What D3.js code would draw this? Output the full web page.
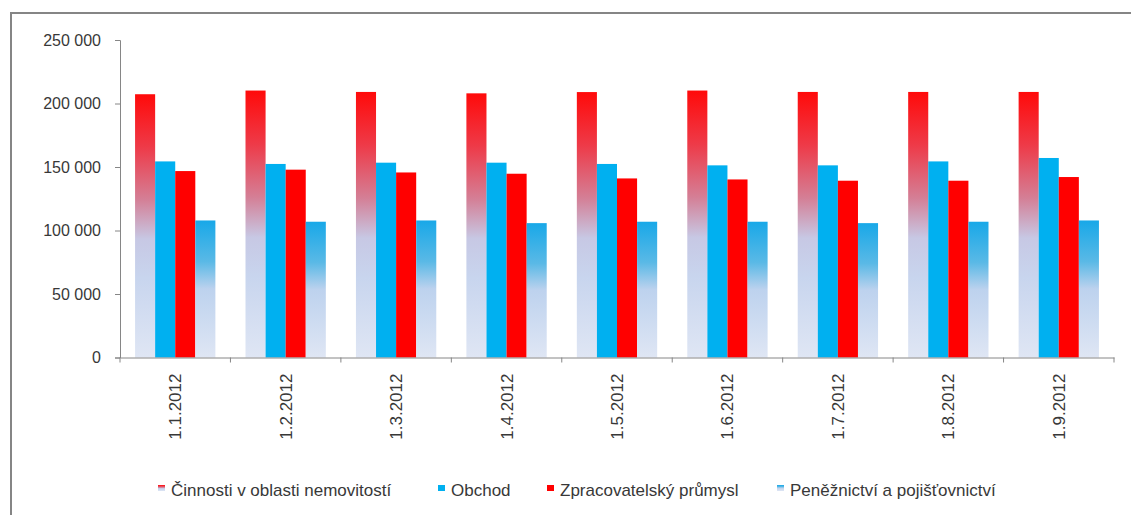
<!DOCTYPE html>
<html>
<head>
<meta charset="utf-8">
<script src="https://cdn.jsdelivr.net/npm/d3@7"></script>
<style>
  body { margin: 0; background: #fff; }
  text { font-family: "Liberation Sans", Arial, sans-serif; fill: #383838; }
</style>
</head>
<body>
<div id="svg"></div>
<script>
// data
let categories = ["1.1.2012", "1.2.2012", "1.3.2012", "1.4.2012", "1.5.2012", "1.6.2012", "1.7.2012", "1.8.2012", "1.9.2012"];
let seriesNames = ["Činnosti v oblasti nemovitostí", "Obchod", "Zpracovatelský průmysl", "Peněžnictví a pojišťovnictví"];
let nemovitosti = [207300, 210200, 209100, 208000, 209000, 210200, 209100, 209100, 209100];
let obchod = [154400, 152400, 153400, 153400, 152400, 151300, 151300, 154400, 157100];
let prumysl = [146800, 147900, 145700, 144700, 141000, 140200, 139200, 139200, 142100];
let peneznictvi = [107900, 106900, 107900, 105800, 106900, 106900, 105800, 106900, 107900];
let yTicks = [0, 50000, 100000, 150000, 200000, 250000];

let allSeries = [nemovitosti, obchod, prumysl, peneznictvi];
let fills = ["url(#gradRed)", "#00b0f0", "#ff0000", "url(#gradBlue)"];

let width = 1131,
    height = 515;

let svg = d3.select("#svg")
    .append("svg")
    .attr("width", width)
    .attr("height", height);

let defs = svg.append("defs");

function addGradient(id, stops) {
    let g = defs.append("linearGradient")
        .attr("id", id)
        .attr("x1", 0).attr("y1", 0)
        .attr("x2", 0).attr("y2", 1);
    stops.forEach(function(s) {
        g.append("stop").attr("offset", s[0]).attr("stop-color", s[1]);
    });
}
addGradient("gradRed", [[0, "#ff0a0a"], [0.2, "#ee3a48"], [0.4, "#d47f96"], [0.55, "#c7c8e4"], [0.7, "#c8d5ee"], [1, "#dfe6f4"]]);
addGradient("gradBlue", [[0, "#18a8e8"], [0.3, "#5ab9e6"], [0.5, "#bdd2ee"], [1, "#dfe6f4"]]);

// outer frame
svg.append("rect")
    .attr("x", 11).attr("y", 13)
    .attr("width", width + 20).attr("height", height + 20)
    .attr("fill", "none")
    .attr("stroke", "#858585")
    .attr("stroke-width", 2);

let plotLeft = 120, plotRight = 1114, plotTop = 40, plotBottom = 357.5;

let xScale = d3.scaleBand().domain(categories).range([plotLeft, plotRight]);
let xInner = d3.scaleBand().domain(d3.range(4)).range([0, xScale.bandwidth()]).paddingOuter(0.75).paddingInner(0);
let yScale = d3.scaleLinear().domain([0, 250000]).range([plotBottom, plotTop]);

// bars
allSeries.forEach(function(values, s) {
    svg.append("g").selectAll("rect")
        .data(values)
        .enter().append("rect")
        .attr("x", function(d, i) { return xScale(categories[i]) + xInner(s); })
        .attr("y", function(d) { return yScale(d); })
        .attr("width", xInner.bandwidth())
        .attr("height", function(d) { return plotBottom - yScale(d); })
        .attr("fill", fills[s]);
});

// y axis
let yAxis = svg.append("g")
    .attr("transform", "translate(" + plotLeft + ",0)")
    .call(d3.axisLeft(yScale).tickValues(yTicks).tickSize(5).tickPadding(14)
        .tickFormat(function(d) { return d3.format(",")(d).replace(/,/g, " "); }));
yAxis.selectAll("text").style("font-size", "16px").attr("fill", "#383838");

// x axis
let xAxis = svg.append("g")
    .attr("transform", "translate(0," + plotBottom + ")")
    .call(d3.axisBottom(xScale).tickSize(0).tickFormat(""));
xAxis.selectAll(".tick").remove();
xAxis.selectAll(".sep")
    .data(d3.range(categories.length + 1))
    .enter().append("line")
    .attr("x1", function(i) { return plotLeft + i * xScale.step(); })
    .attr("x2", function(i) { return plotLeft + i * xScale.step(); })
    .attr("y1", 0).attr("y2", 5)
    .attr("stroke", "#868686");

svg.selectAll(".xlab")
    .data(categories)
    .enter().append("text")
    .attr("class", "xlab")
    .attr("transform", function(d) {
        return "translate(" + (xScale(d) + xScale.bandwidth() / 2 + 6) + "," + (plotBottom + 16) + ") rotate(-90)";
    })
    .attr("text-anchor", "end")
    .style("font-size", "17px")
    .text(function(d) { return d; });

svg.selectAll(".domain").attr("stroke", "#868686");
svg.selectAll(".tick line").attr("stroke", "#868686");

// legend
let legendX = [158, 438, 547, 777];
let legend = svg.append("g").selectAll("g")
    .data(seriesNames)
    .enter().append("g")
    .attr("transform", function(d, i) { return "translate(" + legendX[i] + ",490)"; });
legend.append("rect")
    .attr("x", 0).attr("y", -5)
    .attr("width", 7).attr("height", 6)
    .attr("fill", function(d, i) { return fills[i]; });
legend.append("text")
    .attr("x", 13).attr("y", 0)
    .attr("dy", "0.35em")
    .style("font-size", "17px")
    .text(function(d) { return d; });
</script>
</body>
</html>
